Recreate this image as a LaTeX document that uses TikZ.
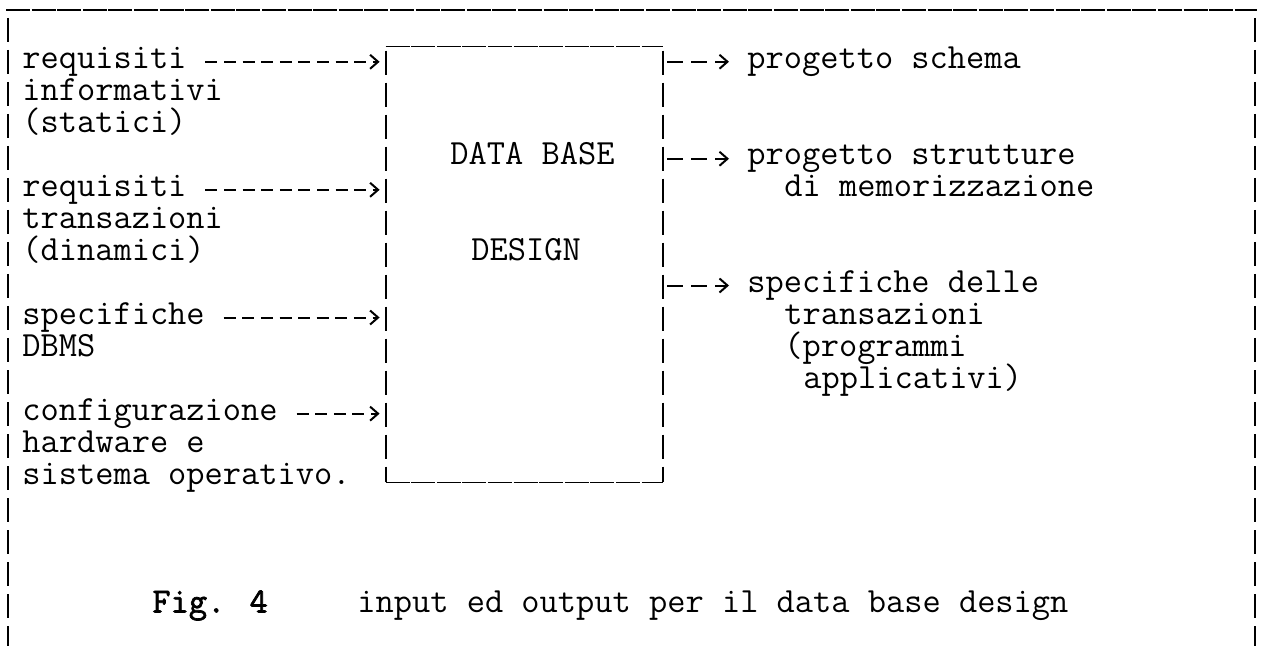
\documentclass[tikz,border=0pt]{standalone}
\usepackage{fontspec}
\usetikzlibrary{arrows.meta}
\newfontfamily\heavytype[FakeBold=2]{Latin Modern Mono}
\newcommand{\typew}{\ttfamily\fontsize{17.7}{16}\selectfont}
\begin{document}
\begin{tikzpicture}[x=0.5pt,y=-0.5pt,
    typed/.style={font=\typew, inner sep=0pt, anchor=base west},
    feed/.style={line width=1pt, dash pattern=on 6pt off 3.3pt,
      -{Straight Barb[length=4pt,width=7pt]}},
    outfeed/.style={feed, dash pattern=on 8pt off 4pt},
    bar/.style={line width=1pt, dash pattern=on 12pt off 4pt},
    rule/.style={line width=0.9pt, dash pattern=on 12pt off 0.8pt}]
\useasboundingbox (0,0) rectangle (1262,646);
% frame
\draw[rule] (6,10) -- (1257,10);
\draw[bar, dash phase=12pt] (8,10) -- (8,646);
\draw[bar, dash phase=12pt] (1255,10) -- (1255,646);
% data base design box
\node[minimum width=138.5pt, minimum height=217.5pt, inner sep=0pt] (box) at (524.5,264.5) {};
\draw[rule] (box.north west) -- (box.north east);
\draw[rule] (box.south west) -- (box.south east);
\draw[bar, dash phase=14pt] (box.north west) -- (box.south west);
\draw[bar, dash phase=14pt] (box.north east) -- (box.south east);
\node[typed] (db) at (450,164.5) {DATA BASE};
\node[typed] (design) at (471,260.5) {DESIGN};
% inputs
\node[typed] (req1) at (22,68.5) {requisiti};
\node[typed] (req1b) at (22,100.5) {informativi};
\node[typed] (req1c) at (22,132.5) {(statici)};
\node[typed] (req2) at (22,196.5) {requisiti};
\node[typed] (req2b) at (22,228.5) {transazioni};
\node[typed] (req2c) at (22,260.5) {(dinamici)};
\node[typed] (spec) at (22,324.5) {specifiche};
\node[typed] (specb) at (22,356.5) {DBMS};
\node[typed] (conf) at (22,420.5) {configurazione};
\node[typed] (confb) at (22,452.5) {hardware e};
\node[typed] (confc) at (22,484.5) {sistema operativo.};
\foreach \src in {req1,req2,spec,conf}
  \draw[feed, shorten >=3pt] ([xshift=9.3pt]\src.east) -- (\src.east -| box.west);
% outputs
\node[typed] (out1) at (747,68.5) {progetto schema};
\node[typed] (out2) at (747,164.5) {progetto strutture};
\node[typed] (out2b) at (784,196.5) {di memorizzazione};
\node[typed] (out3) at (747,292.5) {specifiche delle};
\node[typed] (out3b) at (784,324.5) {transazioni};
\node[typed] (out3c) at (784,356.5) {(programmi};
\node[typed] (out3d) at (803,388.5) {applicativi)};
\foreach \dst in {out1,out2,out3}
  \draw[outfeed, shorten <=2pt, shorten >=9pt] (\dst.west -| box.east) -- (\dst.west);
% caption
\node[typed, font=\heavytype\fontsize{17.7}{16}\selectfont] (fig) at (152,612.5) {Fig. 4};
\node[typed] (title) at (357,612.5) {input ed output per il data base design};
\end{tikzpicture}
\end{document}
